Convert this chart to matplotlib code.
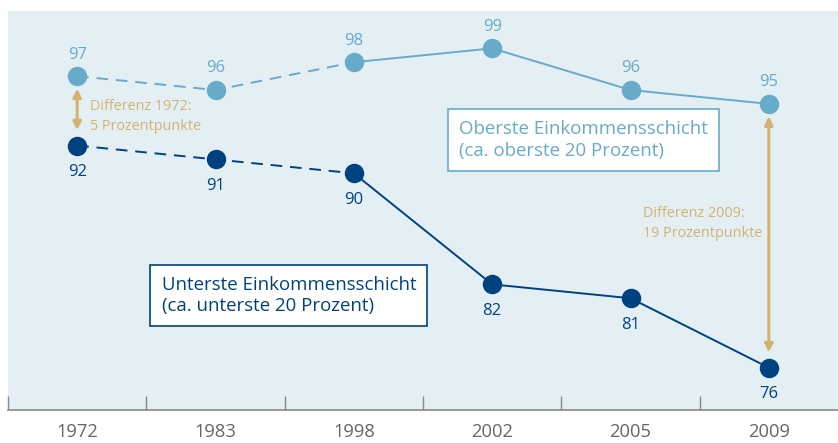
import matplotlib.pyplot as plt

plt.rcParams['font.family'] = ['Open Sans', 'DejaVu Sans']

years = ['1972', '1983', '1998', '2002', '2005', '2009']
oberste = [97, 96, 98, 99, 96, 95]
unterste = [92, 91, 90, 82, 81, 76]

hell = '#67abca'
dunkel = '#00427f'
gold = '#d3b271'
bg = '#e4eff4'

fig = plt.figure(figsize=(8.38, 4.43), dpi=100)
ax = fig.add_axes([8 / 838, 33 / 443, 1 - 8 / 838, (410 - 11) / 443])
ax.set_facecolor(bg)
x = list(range(len(years)))

# gestrichelt 1972-1998, danach durchgezogen
ax.plot(x[:3], oberste[:3], color=hell, lw=1.4, ls=(0, (6, 4)))
ax.plot(x[2:], oberste[2:], color=hell, lw=1.4)
ax.plot(x[:3], unterste[:3], color=dunkel, lw=1.4, ls=(0, (6, 4)))
ax.plot(x[2:], unterste[2:], color=dunkel, lw=1.4)
ax.plot(x, oberste, 'o', color=hell, ms=13, zorder=3)
ax.plot(x, unterste, 'o', color=dunkel, ms=13, zorder=3)

for i in x:
    ax.annotate(str(oberste[i]), (i, oberste[i]), xytext=(0, 15.5), textcoords='offset points',
                ha='center', va='center', color=hell, fontsize=12)
    ax.annotate(str(unterste[i]), (i, unterste[i]), xytext=(0, -19), textcoords='offset points',
                ha='center', va='center', color=dunkel, fontsize=12)

# Differenz-Pfeile
for i, txt, tx, ty in [(0, 'Differenz 1972:\n5 Prozentpunkte', 0.09, 94.1),
                       (5, 'Differenz 2009:\n19 Prozentpunkte', 4.09, 86.4)]:
    ax.annotate('', xy=(i, unterste[i]), xytext=(i, oberste[i]),
                arrowprops=dict(arrowstyle='<|-|>', color=gold, lw=2.2, shrinkA=9, shrinkB=11,
                                mutation_scale=12))
    ax.text(tx, ty, txt, color=gold, fontsize=10.4, va='center', ha='left', linespacing=1.5)

ax.text(2.76, 92.4, 'Oberste Einkommensschicht\n(ca. oberste 20 Prozent)', color=hell,
        fontsize=13.4, va='center', ha='left', linespacing=1.25,
        bbox=dict(boxstyle='square,pad=0.6', fc='white', ec=hell, lw=1.2))
ax.text(0.61, 81.2, 'Unterste Einkommensschicht\n(ca. unterste 20 Prozent)', color=dunkel,
        fontsize=13.4, va='center', ha='left', linespacing=1.25,
        bbox=dict(boxstyle='square,pad=0.6', fc='white', ec=dunkel, lw=1.2))

ax.set_xlim(-0.5, 5.5)
ax.set_ylim(72.95, 101.69)
ax.set_yticks([])
ax.set_xticks(x)
ax.set_xticklabels(years, color='#666666', fontsize=13.2)
ax.tick_params(axis='x', length=0, pad=9.5)
ax.set_xticks([i - 0.5 for i in x], minor=True)
ax.tick_params(axis='x', which='minor', length=10, direction='in', color='#888888', width=1)
for s in ['top', 'right', 'left']:
    ax.spines[s].set_visible(False)
ax.spines['bottom'].set_color('#888888')
ax.spines['bottom'].set_linewidth(1.2)

fig.savefig('out.png', dpi=100)
